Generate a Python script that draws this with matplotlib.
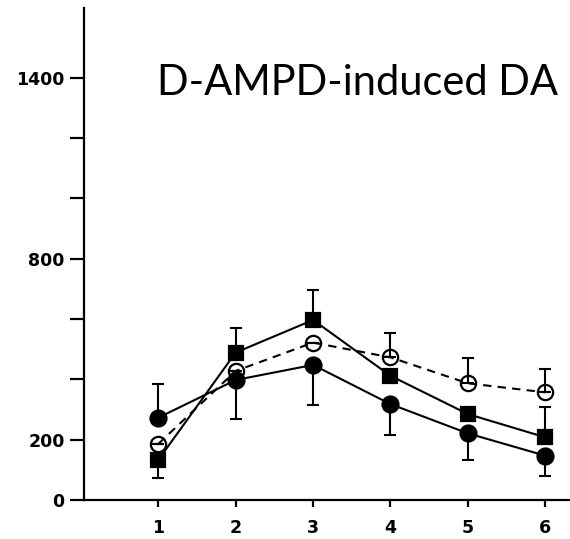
import matplotlib
matplotlib.use("Agg")
import matplotlib.pyplot as plt
import numpy as np

# Data
time_points = [1, 2, 3, 4, 5, 6]
x_tick_labels = ["1", "2", "3", "4", "5", "6"]
y_ticks = [0, 200, 400, 600, 800, 1000, 1200, 1400]
y_tick_labels = ["0", "200", "", "", "800", "", "", "1400"]

filled_circle = [273, 398, 448, 318, 221, 147]
filled_circle_err_low = [0, 130, 133, 102, 88, 67]
filled_circle_err_high = [112, 0, 0, 0, 0, 0]

filled_square = [133, 489, 597, 412, 285, 208]
filled_square_err_low = [61, 0, 0, 0, 0, 0]
filled_square_err_high = [0, 80, 100, 0, 0, 99]

open_circle = [186, 428, 522, 473, 387, 357]
open_circle_err_low = [0, 0, 0, 0, 0, 0]
open_circle_err_high = [0, 0, 0, 80, 83, 76]

title_text = "D-AMPD-induced DA"

fig = plt.figure(figsize=(5.70, 5.39), dpi=100)
ax = fig.add_axes([84/570, 39/539, (570-84)/570, (500-8.5)/539])

lw = 1.5
cap = 4.2

def draw(y, lo, hi, marker, mfc, ls, ms_):
    ax.errorbar(time_points, y, yerr=[lo, hi], fmt='none', ecolor='black',
                elinewidth=lw, capsize=cap, capthick=lw, zorder=2)
    ax.plot(time_points, y, color='black', linestyle=ls, linewidth=lw,
            marker=marker, markersize=ms_, markerfacecolor=mfc,
            markeredgecolor='black', markeredgewidth=1.6, zorder=3)

draw(filled_circle, filled_circle_err_low, filled_circle_err_high, 'o', 'black', '-', 11.5)
draw(filled_square, filled_square_err_low, filled_square_err_high, 's', 'black', '-', 10.5)
draw(open_circle, open_circle_err_low, open_circle_err_high, 'o', 'none', (0, (4, 3)), 11)

ax.set_xlim(0.04, 6.32)
ax.set_ylim(0, 1630)
ax.set_xticks(time_points)
ax.set_xticklabels(x_tick_labels)
ax.set_yticks(y_ticks)
ax.set_yticklabels(y_tick_labels)

for s in ['top', 'right']:
    ax.spines[s].set_visible(False)
for s in ['left', 'bottom']:
    ax.spines[s].set_linewidth(1.6)

ax.tick_params(axis='y', direction='out', length=10, width=1.6, pad=4)
ax.tick_params(axis='x', direction='out', length=5, width=1.6, pad=9)
for lab in ax.get_xticklabels() + ax.get_yticklabels():
    lab.set_fontfamily('DejaVu Sans')
    lab.set_fontweight('bold')
    lab.set_fontsize(12.5)

fig.text(157/570, 1 - 95/539, title_text, ha='left', va='baseline',
         fontsize=30, family='Lato', color='black')

fig.savefig('out.png', dpi=100)
